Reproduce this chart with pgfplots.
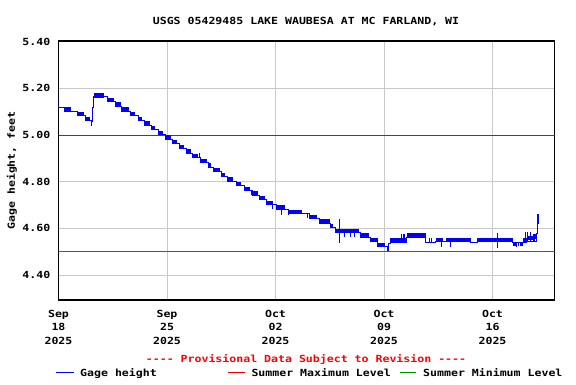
\documentclass[border=0pt]{standalone}
\usepackage{fontspec}
\setmainfont{DejaVu Sans Mono}[FakeStretch=1.18]
\usepackage{pgfplots}
\pgfplotsset{compat=1.18}
\definecolor{gridgray}{RGB}{200,200,200}
\definecolor{usblue}{RGB}{0,0,255}
\definecolor{usred}{RGB}{230,0,0}
\definecolor{usgreen}{RGB}{0,150,0}
\definecolor{provred}{RGB}{255,0,0}
\newcommand{\uf}{\fontsize{9.8bp}{13.3bp}\selectfont\bfseries}
\begin{document}
\begin{tikzpicture}[x=1bp,y=1bp]
\useasboundingbox (-58.5,-84) rectangle (517.5,300);
\begin{axis}[at={(0,0)}, anchor=south west, scale only axis,
  width=496bp, height=259bp,
  xmin=0, xmax=32, ymin=4.293, ymax=5.403,
  xtick={0,7,14,21,28},
  xticklabels={{Sep\\18\\2025},{Sep\\25\\2025},{Oct\\02\\2025},{Oct\\09\\2025},{Oct\\16\\2025}},
  ytick={4.4,4.6,4.8,5.0,5.2,5.4},
  yticklabel style={/pgf/number format/fixed, /pgf/number format/fixed zerofill, /pgf/number format/precision=2, /pgf/number format/assume math mode=true, inner sep=0pt, xshift=-8bp},
  grid=major, major grid style={gridgray, line width=1bp},
  major tick length=0pt,
  axis line style={black, line width=1.3bp},
  tick label style={font=\uf},
  xticklabel style={align=center, inner sep=0pt, yshift=-10bp},
  unbounded coords=jump,
]
% Summer maximum and minimum levels
\addplot[usred, line width=1bp] coordinates {(0,5.00)(32,5.00)};
\addplot[usgreen, line width=1bp] coordinates {(0,4.50)(32,4.50)};
% Gage height: main trace
\addplot[usblue, line width=1bp, const plot] coordinates {
(0,5.144)(0.03,5.117)(0.39,5.103)(1.21,5.083)(1.75,5.063)(2.13,5.040)(2.15,5.057)
(2.17,5.117)(2.28,5.163)(3.19,5.143)(3.67,5.123)(4.05,5.103)(4.65,5.083)(5.13,5.063)
(5.56,5.043)(5.99,5.023)(6.46,5.003)(6.92,4.983)(7.35,4.963)(7.78,4.943)(8.25,4.923)
(8.64,4.903)(9.16,4.883)(9.65,4.863)(10.00,4.843)(10.52,4.823)(10.91,4.803)(11.49,4.783)
(12.02,4.763)(12.52,4.743)(12.99,4.723)(13.43,4.703)(14.07,4.683)(14.82,4.663)(16.22,4.643)
(16.81,4.623)(17.52,4.603)(17.89,4.583)(19.46,4.563)(20.10,4.543)(20.60,4.523)(21.24,4.504)
(21.27,4.535)(21.40,4.540)(22.48,4.563)(23.70,4.540)(24.31,4.543)(26.61,4.540)(27.00,4.543)
(29.30,4.540)(29.97,4.545)(30.85,4.580)(30.89,4.660)(30.95,4.620)(30.97,4.620)};
% Gage height: oscillating stretches
\addplot[usblue, line width=4.4bp, line cap=butt] coordinates {
(0.39,5.11)(0.82,5.11)(0.82,nan)
(1.21,5.09)(1.64,5.09)(1.64,nan)
(1.75,5.07)(2.00,5.07)(2.00,nan)
(2.28,5.17)(2.91,5.17)(2.91,nan)
(3.19,5.15)(3.57,5.15)(3.57,nan)
(3.67,5.13)(4.01,5.13)(4.01,nan)
(4.05,5.11)(4.52,5.11)(4.52,nan)
(4.65,5.09)(4.96,5.09)(4.96,nan)
(5.13,5.07)(5.38,5.07)(5.38,nan)
(5.56,5.05)(5.88,5.05)(5.88,nan)
(5.99,5.03)(6.21,5.03)(6.21,nan)
(6.46,5.01)(6.72,5.01)(6.72,nan)
(6.92,4.99)(7.24,4.99)(7.24,nan)
(7.35,4.97)(7.67,4.97)(7.67,nan)
(7.78,4.95)(8.10,4.95)(8.10,nan)
(8.25,4.93)(8.58,4.93)(8.58,nan)
(8.64,4.91)(9.00,4.91)(9.00,nan)
(9.16,4.89)(9.61,4.89)(9.61,nan)
(9.65,4.87)(9.83,4.87)(9.83,nan)
(10.00,4.85)(10.41,4.85)(10.41,nan)
(10.52,4.83)(10.73,4.83)(10.73,nan)
(10.91,4.81)(11.27,4.81)(11.27,nan)
(11.49,4.79)(11.75,4.79)(11.75,nan)
(12.02,4.77)(12.35,4.77)(12.35,nan)
(12.52,4.75)(12.84,4.75)(12.84,nan)
(12.99,4.73)(13.27,4.73)(13.27,nan)
(13.43,4.71)(13.85,4.71)(13.85,nan)
(14.07,4.69)(14.61,4.69)(14.61,nan)
(14.82,4.67)(15.73,4.67)(15.73,nan)
(16.22,4.65)(16.66,4.65)(16.66,nan)
(16.81,4.63)(17.52,4.63)(17.52,nan)
(17.52,4.61)(17.73,4.61)(17.73,nan)
(17.89,4.59)(19.39,4.59)(19.39,nan)
(19.46,4.57)(20.04,4.57)(20.04,nan)
(20.10,4.55)(20.60,4.55)(20.60,nan)
(20.60,4.53)(21.07,4.53)(21.07,nan)
(21.40,4.548)(22.48,4.548)(22.48,nan)
(22.48,4.57)(23.70,4.57)(23.70,nan)
(24.37,4.55)(24.83,4.55)(24.83,nan)
(24.98,4.55)(26.61,4.55)(26.61,nan)
(27.00,4.55)(29.33,4.55)(29.33,nan)
(29.33,4.532)(29.50,4.532)(29.50,nan)
(29.62,4.532)(29.68,4.532)(29.68,nan)
(29.78,4.532)(29.97,4.532)(29.97,nan)
(29.97,4.548)(30.20,4.548)(30.20,nan)
(30.20,4.560)(30.60,4.560)(30.60,nan)
(30.60,4.565)(30.85,4.565)(30.85,nan)};
% Gage height: short excursions
\addplot[usblue, line width=1bp] coordinates {
(5.15,5.078)(5.15,5.060)(5.15,nan)
(9.08,4.924)(9.08,4.903)(9.08,nan)
(12.44,4.766)(12.44,4.745)(12.44,nan)
(13.28,4.739)(13.28,4.721)(13.28,nan)
(13.79,4.700)(13.79,4.683)(13.79,nan)
(14.40,4.700)(14.40,4.657)(14.40,nan)
(14.83,4.685)(14.83,4.657)(14.83,nan)
(16.05,4.661)(16.05,4.643)(16.05,nan)
(18.12,4.641)(18.12,4.536)(18.12,nan)
(18.44,4.588)(18.44,4.565)(18.44,nan)
(18.81,4.588)(18.81,4.565)(18.81,nan)
(19.08,4.588)(19.08,4.565)(19.08,nan)
(22.15,4.578)(22.15,4.545)(22.15,nan)
(22.25,4.578)(22.25,4.545)(22.25,nan)
(22.35,4.578)(22.35,4.545)(22.35,nan)
(23.95,4.560)(23.95,4.538)(23.95,nan)
(24.05,4.560)(24.05,4.538)(24.05,nan)
(24.72,4.556)(24.72,4.521)(24.72,nan)
(25.32,4.556)(25.32,4.521)(25.32,nan)
(28.31,4.579)(28.31,4.517)(28.31,nan)
(29.55,4.540)(29.55,4.521)(29.55,nan)
(30.10,4.583)(30.10,4.540)(30.10,nan)
(30.25,4.583)(30.25,4.540)(30.25,nan)
(30.45,4.583)(30.45,4.540)(30.45,nan)
(30.62,4.565)(30.62,4.540)(30.62,nan)
(30.71,4.565)(30.71,4.545)(30.71,nan)};
\end{axis}
% Title, axis label, notice and legend
\node[font=\uf, anchor=base] at (247.5,276) {USGS 05429485 LAKE WAUBESA AT MC FARLAND, WI};
\node[font=\uf, rotate=90] at (-46.5,129.5) {Gage height, feet};
\node[font=\uf, text=provred, anchor=base] at (247.5,-62.5) {{-}{-}{-}{-} Provisional Data Subject to Revision {-}{-}{-}{-}};
\draw[usblue, line width=1bp] (-2.5,-72.7) -- (15.2,-72.7);
\node[font=\uf, anchor=base west, inner sep=0pt] at (21.5,-76) {Gage height};
\draw[usred, line width=1bp] (169.2,-72.7) -- (186.5,-72.7);
\node[font=\uf, anchor=base west, inner sep=0pt] at (192.8,-76) {Summer Maximum Level};
\draw[usgreen, line width=1bp] (341.3,-72.7) -- (357.9,-72.7);
\node[font=\uf, anchor=base west, inner sep=0pt] at (364.5,-76) {Summer Minimum Level};
\end{tikzpicture}
\end{document}
